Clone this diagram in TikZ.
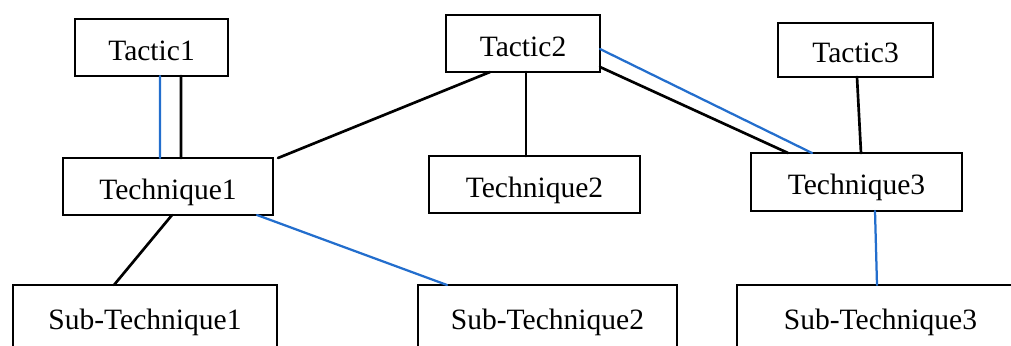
\documentclass[tikz,border=0pt]{standalone}
\usepackage{fontspec}
\setmainfont{Liberation Serif}
\usetikzlibrary{calc}
\definecolor{linkblue}{RGB}{35,110,205}
\begin{document}
\begin{tikzpicture}[x=0.025cm,y=-0.025cm,line join=round,line cap=round,
		box/.style={draw,line width=2pt,line join=miter,inner sep=0pt,outer sep=0pt,minimum height=1.425cm,text height=21pt,text depth=3pt,font=\fontsize{21}{25}\selectfont},
		blk/.style={line width=1.9pt},
		blu/.style={line width=1.6pt,color=linkblue}]
		
		\path[use as bounding box,clip] (0,0) rectangle (1011,345);
		% tactics
		\node[box,minimum width=3.825cm] (tac1) at (151.5,47.5) {Tactic1};
		\node[box,minimum width=3.85cm] (tac2) at (523,43.5) {Tactic2};
		\node[box,minimum width=3.875cm,minimum height=1.35cm] (tac3) at (855.5,50) {Tactic3};
		% techniques
		\node[box,minimum width=5.25cm] (tech1) at (168,186.5) {Technique1};
		\node[box,minimum width=5.275cm] (tech2) at (534.5,184.5) {Technique2};
		\node[box,minimum width=5.275cm,minimum height=1.45cm] (tech3) at (856.5,182) {Technique3};
		% sub-techniques (cut at the lower edge)
		\node[box,minimum width=6.6cm,minimum height=1.575cm] (sub1) at (145,316.5) {Sub-Technique1};
		\node[box,minimum width=6.475cm,minimum height=1.575cm] (sub2) at (547.5,316.5) {Sub-Technique2};
		\node[box,minimum width=7.175cm,minimum height=1.575cm] (sub3) at (880.5,316.5) {Sub-Technique3};
		
		\draw[blu] ($(tac1.south)+(8.5,0)$) -- ($(tech1.north)+(-8,0)$);
		\draw[blk] ($(tac1.south)+(29.5,0)$) -- ($(tech1.north)+(13,0)$);
		\draw[blk] ($(tac2.south)+(-33,0)$) -- ($(tech1.north east)+(5,0)$);
		\draw[blk] ($(tac2.south)+(3,0)$) -- ($(tech2.north)+(-8.5,0)$);
		\draw[blk] ($(tac2.east)+(0,23.5)$) -- ($(tech3.north)+(-68.5,0)$);
		\draw[blu] ($(tac2.east)+(0,5.5)$) -- ($(tech3.north)+(-44.5,0)$);
		\draw[blk] ($(tac3.south)+(1.5,0)$) -- ($(tech3.north)+(4.5,0)$);
		\draw[blk] ($(tech1.south)+(4,0)$) -- ($(sub1.north)+(-31,0)$);
		\draw[blu] ($(tech1.south)+(89,0)$) -- ($(sub2.north)+(-100.5,0)$); % link to the second sub-technique
		\draw[blu] ($(tech3.south)+(18.5,0)$) -- ($(sub3.north)+(-3.5,0)$);
	\end{tikzpicture}
\end{document}
